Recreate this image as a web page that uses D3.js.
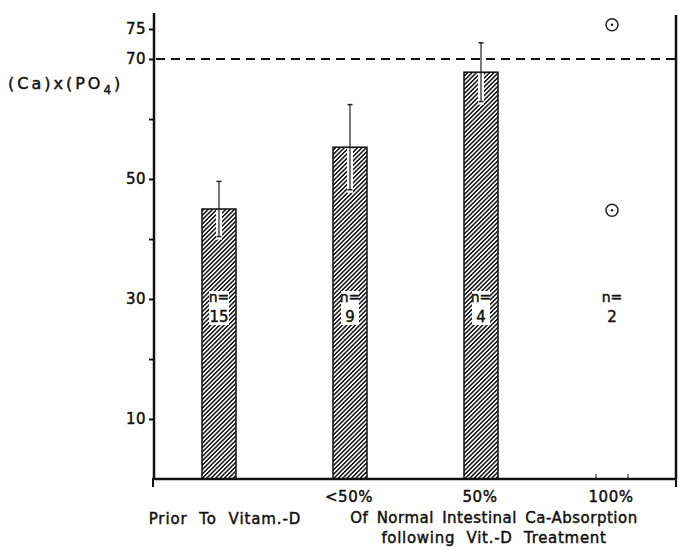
<!DOCTYPE html>
<html lang="en">
<head>
	<meta charset="utf-8">
	<title>(Ca)x(PO4) by Vit.-D response</title>
	<script src="https://d3js.org/d3.v7.min.js"></script>
	<style type="text/css">
		body { margin: 0; background: #fff; }
		svg text {
			font-family: "DejaVu Sans", sans-serif;
			fill: #111;
			stroke: #111;
			stroke-width: 0.45px;
		}
		.axis path { display: none; }
		.axis line {
			stroke: #111;
			stroke-width: 2;
		}
		.axis text {
			font-size: 15px;
			letter-spacing: 0.5px;
		}
	</style>
</head>
<body>
	<script type="text/javascript">

		// Data
		var categories = ["Prior To Vitam.-D", "<50%", "50%", "100%"];
		var barMeans = [45, 55.3, 67.8];
		var barSD = [4.6, 7.1, 4.9];
		var points100 = [75.7, 44.8];
		var nValues = [15, 9, 4, 2];
		var yTicks = [10, 20, 30, 40, 50, 60, 70, 75];
		var yTickLabels = [10, 30, 50, 70, 75];
		var refLine = 70;

		// Size of the drawing
		var width = 679;
		var height = 547;
		var margin = {top: 13, right: 2, bottom: 68, left: 154};
		var plot_right = width - margin.right;
		var plot_bottom = height - margin.bottom;

		var svg = d3.select("body")
					.append("svg")
					.attr("width", width)
					.attr("height", height);

		// Hatch pattern for the bars
		var defs = svg.append("defs");
		defs.append("pattern")
			.attr("id", "hatch")
			.attr("patternUnits", "userSpaceOnUse")
			.attr("width", 3.1)
			.attr("height", 10)
			.attr("patternTransform", "rotate(45)")
			.append("rect")
			.attr("width", 1.5)
			.attr("height", 10)
			.attr("fill", "#111");

		// Scales
		var yScale = d3.scaleLinear()
						.domain([0, 75])
						.range([plot_bottom, plot_bottom - 75 * 6]);

		var xScale = d3.scalePoint()
						.domain(categories)
						.range([219, 612]);

		var barWidth = 34;

		// Y axis
		var yAxis = d3.axisLeft(yScale)
						.tickValues(yTicks)
						.tickSize(5)
						.tickPadding(3)
						.tickFormat(function(d) {
							return yTickLabels.indexOf(d) >= 0 ? d : "";
						});

		svg.append("g")
			.attr("class", "axis")
			.attr("transform", "translate(" + margin.left + ",0)")
			.call(yAxis);

		svg.append("line")
			.attr("x1", margin.left).attr("x2", margin.left)
			.attr("y1", margin.top).attr("y2", plot_bottom + 1)
			.attr("stroke", "#111")
			.attr("stroke-width", 2.5);

		// Bottom axis line, end ticks and right frame
		svg.append("line")
			.attr("x1", margin.left - 2).attr("x2", plot_right)
			.attr("y1", plot_bottom).attr("y2", plot_bottom)
			.attr("stroke", "#111")
			.attr("stroke-width", 2.5);

		svg.selectAll(".endtick")
			.data([margin.left - 1, plot_right - 1])
			.enter()
			.append("line")
			.attr("x1", function(d) { return d; })
			.attr("x2", function(d) { return d; })
			.attr("y1", plot_bottom)
			.attr("y2", plot_bottom + 8)
			.attr("stroke", "#111")
			.attr("stroke-width", 2);

		svg.append("line")
			.attr("x1", plot_right - 1).attr("x2", plot_right - 1)
			.attr("y1", margin.top + 2).attr("y2", plot_bottom)
			.attr("stroke", "#111")
			.attr("stroke-width", 2.5);

		// small ticks marking the empty 100% column
		svg.selectAll(".coltick")
			.data([-16, 16])
			.enter()
			.append("line")
			.attr("x1", function(d) { return xScale("100%") + d; })
			.attr("x2", function(d) { return xScale("100%") + d; })
			.attr("y1", plot_bottom)
			.attr("y2", plot_bottom - 5)
			.attr("stroke", "#333")
			.attr("stroke-width", 1.2);

		// Dashed reference line
		svg.append("line")
			.attr("x1", margin.left + 2).attr("x2", plot_right - 2)
			.attr("y1", yScale(refLine)).attr("y2", yScale(refLine))
			.attr("stroke", "#111")
			.attr("stroke-width", 2)
			.attr("stroke-dasharray", "9,6");

		// Bars
		var barData = barMeans.map(function(m, i) {
			return {cat: categories[i], mean: m, sd: barSD[i]};
		});

		svg.selectAll(".bar")
			.data(barData)
			.enter()
			.append("rect")
			.attr("class", "bar")
			.attr("x", function(d) { return xScale(d.cat) - barWidth / 2; })
			.attr("y", function(d) { return yScale(d.mean); })
			.attr("width", barWidth)
			.attr("height", function(d) { return plot_bottom - yScale(d.mean); })
			.attr("fill", "url(#hatch)")
			.attr("stroke", "#111")
			.attr("stroke-width", 1.5);

		// Error bars: white gap inside the bar, then a thin line with caps
		var err = svg.selectAll(".err")
			.data(barData)
			.enter()
			.append("g")
			.attr("class", "err");

		err.append("rect")
			.attr("x", function(d) { return xScale(d.cat) - 3; })
			.attr("y", function(d) { return yScale(d.mean) + 1; })
			.attr("width", 6)
			.attr("height", function(d) { return yScale(d.mean - d.sd) - yScale(d.mean) + 2; })
			.attr("fill", "#fff");

		err.append("line")
			.attr("x1", function(d) { return xScale(d.cat); })
			.attr("x2", function(d) { return xScale(d.cat); })
			.attr("y1", function(d) { return yScale(d.mean + d.sd); })
			.attr("y2", function(d) { return yScale(d.mean - d.sd); })
			.attr("stroke", "#222")
			.attr("stroke-width", 1.2);

		err.selectAll(".cap")
			.data(function(d) { return [d.mean + d.sd, d.mean - d.sd].map(function(v) { return {cat: d.cat, v: v}; }); })
			.enter()
			.append("line")
			.attr("x1", function(d) { return xScale(d.cat) - 2.5; })
			.attr("x2", function(d) { return xScale(d.cat) + 2.5; })
			.attr("y1", function(d) { return yScale(d.v); })
			.attr("y2", function(d) { return yScale(d.v); })
			.attr("stroke", "#222")
			.attr("stroke-width", 1.5);

		// Single values in the 100% column
		var pts = svg.selectAll(".pt")
			.data(points100)
			.enter()
			.append("g")
			.attr("class", "pt")
			.attr("transform", function(d) {
				return "translate(" + xScale("100%") + "," + yScale(d) + ")";
			});

		pts.append("circle")
			.attr("r", 6)
			.attr("fill", "#fff")
			.attr("stroke", "#222")
			.attr("stroke-width", 1.5);

		pts.append("circle")
			.attr("r", 1.3)
			.attr("fill", "#222");

		// n = labels with white backing
		var nLab = svg.selectAll(".nlab")
			.data(nValues)
			.enter()
			.append("g")
			.attr("class", "nlab")
			.attr("transform", function(d, i) {
				return "translate(" + xScale(categories[i]) + "," + yScale(30) + ")";
			});

		nLab.append("rect")
			.attr("x", function(d) { return d > 9 ? -10 : -9; })
			.attr("y", -8)
			.attr("width", function(d) { return d > 9 ? 20 : 18; })
			.attr("height", 34)
			.attr("fill", function(d, i) { return i < barMeans.length ? "#fff" : "none"; });

		nLab.append("text")
			.attr("text-anchor", "middle")
			.attr("y", 3)
			.style("font-size", "14px")
			.text("n=");

		nLab.append("text")
			.attr("text-anchor", "middle")
			.attr("y", 23)
			.style("font-size", "15px")
			.text(function(d) { return d; });

		// Category labels
		svg.selectAll(".catlab")
			.data(categories.slice(1))
			.enter()
			.append("text")
			.attr("class", "catlab")
			.attr("x", function(d) { return xScale(d) - 1; })
			.attr("y", 502)
			.attr("text-anchor", "middle")
			.style("font-size", "15px")
			.style("letter-spacing", "0.5px")
			.text(function(d) { return d; });

		svg.append("text")
			.attr("x", xScale(categories[0]) + 6)
			.attr("y", 524)
			.attr("text-anchor", "middle")
			.style("font-size", "15px")
			.style("letter-spacing", "0.9px")
			.style("word-spacing", "6px")
			.text(categories[0]);

		svg.append("text")
			.attr("x", 494)
			.attr("y", 523)
			.attr("text-anchor", "middle")
			.style("font-size", "15px")
			.style("letter-spacing", "0.5px")
			.style("word-spacing", "3px")
			.text("Of Normal Intestinal Ca-Absorption");

		svg.append("text")
			.attr("x", 494)
			.attr("y", 543)
			.attr("text-anchor", "middle")
			.style("font-size", "15px")
			.style("letter-spacing", "0.7px")
			.style("word-spacing", "6px")
			.text("following Vit.-D Treatment");

		// Y axis title with subscript
		var yTitle = svg.append("text")
			.attr("x", 8)
			.attr("y", 89)
			.style("font-size", "16px")
			.style("letter-spacing", "3px");

		yTitle.append("tspan").text("(Ca)x(PO");
		yTitle.append("tspan")
			.attr("dy", 5)
			.style("font-size", "12px")
			.text("4");
		yTitle.append("tspan")
			.attr("dy", -5)
			.text(")");

	</script>
</body>
</html>
